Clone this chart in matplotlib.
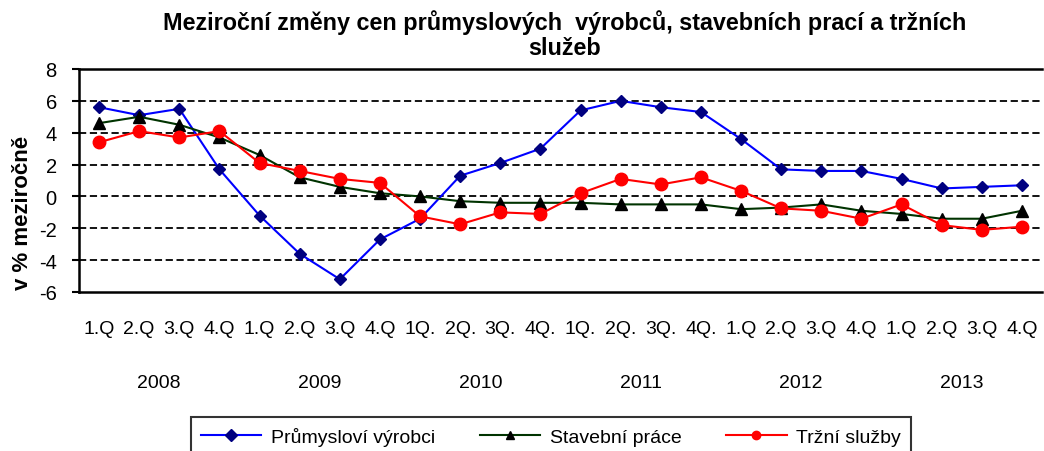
import matplotlib
matplotlib.use("Agg")
import matplotlib.pyplot as plt
import matplotlib.transforms as mtransforms

plt.rcParams['font.family'] = ['Liberation Sans', 'DejaVu Sans']
plt.rcParams['axes.unicode_minus'] = False

quarters = ['1.Q', '2.Q', '3.Q', '4.Q', '1.Q', '2.Q', '3.Q', '4.Q',
            '1Q.', '2Q.', '3Q.', '4Q.', '1Q.', '2Q.', '3Q.', '4Q.',
            '1.Q', '2.Q', '3.Q', '4.Q', '1.Q', '2.Q', '3.Q', '4.Q']
years = ['2008', '2009', '2010', '2011', '2012', '2013']

prumysl = [5.6, 5.1, 5.5, 1.7, -1.2, -3.6, -5.2, -2.7,
           -1.4, 1.3, 2.1, 3.0, 5.4, 6.0, 5.6, 5.3,
           3.6, 1.7, 1.6, 1.6, 1.1, 0.5, 0.6, 0.7]
stavebni = [4.6, 5.0, 4.5, 3.7, 2.6, 1.2, 0.6, 0.2,
            0.0, -0.3, -0.4, -0.4, -0.4, -0.5, -0.5, -0.5,
            -0.8, -0.7, -0.5, -0.9, -1.1, -1.4, -1.4, -0.9]
trzni = [3.4, 4.1, 3.7, 4.1, 2.1, 1.6, 1.1, 0.85,
         -1.25, -1.75, -1.0, -1.1, 0.2, 1.1, 0.75, 1.2,
         0.35, -0.75, -0.9, -1.4, -0.5, -1.8, -2.1, -1.9]

fig = plt.figure(figsize=(10.44, 4.52), dpi=100)
ax = fig.add_axes([79 / 1044, 1 - 293 / 452, (1042 - 79) / 1044, (293 - 70) / 452])

x = list(range(len(quarters)))
ax.plot(x, prumysl, color='#0000FF', lw=1.5, marker='D', ms=6,
        mfc='#000080', mec='#000080', label='Průmysloví výrobci', zorder=3)
ax.plot(x, stavebni, color='#003300', lw=1.5, marker='^', ms=8,
        mfc='black', mec='black', label='Stavební práce', zorder=3)
ax.plot(x, trzni, color='#FF0000', lw=1.5, marker='o', ms=9,
        mfc='#FF0000', mec='#FF0000', label='Tržní služby', zorder=3)

ax.set_xlim(-0.5, len(quarters) - 0.5)
ax.set_ylim(-6, 8)
ax.set_yticks(range(-6, 9, 2))
for v in range(-4, 8, 2):
    ax.axhline(v, color='black', lw=1.3, ls=(0, (4, 2)), zorder=1)

ax.set_xticks(x)
ax.set_xticklabels(quarters, fontsize=14)
ax.tick_params(axis='x', length=0, pad=20)
ax.tick_params(axis='y', labelsize=14.5, length=5, width=1.5, direction='out', pad=11)

for s in ['left', 'bottom', 'top']:
    ax.spines[s].set_linewidth(1.8)
ax.spines['right'].set_visible(False)

trans = mtransforms.blended_transform_factory(ax.transData, ax.transAxes)
for i, y in enumerate(years):
    ax.text(i * 4 + 1.5, -0.405, y, transform=trans, ha='center', va='center', fontsize=14)

fig.text(565 / 1044, 1 - 35 / 452,
         'Meziroční změny cen průmyslových  výrobců, stavebních prací a tržních\nslužeb',
         ha='center', va='center', fontsize=16.8, fontweight='bold', linespacing=1.12)
fig.text(23 / 1044, 1 - 213 / 452, 'v % meziročně', rotation=90, ha='center', va='center',
         fontsize=16, fontweight='bold')

leg = fig.legend(loc='upper center', bbox_to_anchor=(551 / 1044, 1 - 418 / 452), ncol=3,
                 fontsize=14, frameon=True, fancybox=False, edgecolor='black',
                 handlelength=3.1, handletextpad=0.5, columnspacing=2.3,
                 borderpad=0.5, borderaxespad=0)
leg.get_frame().set_linewidth(1.5)
for h in leg.legend_handles:
    h.set_markersize(6)

fig.savefig('out.png', dpi=100)
